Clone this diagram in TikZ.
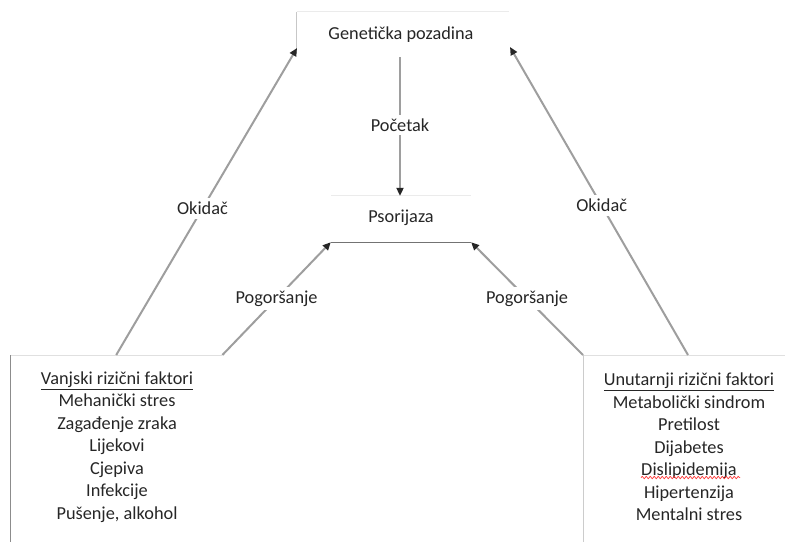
\documentclass[tikz,border=0pt]{standalone}
\usepackage{fontspec}
\setmainfont{Carlito}
\usetikzlibrary{arrows.meta,decorations.pathmorphing}
\begin{document}
\begin{tikzpicture}[x=1pt,y=-1pt,
  txt/.style={font=\fontsize{18.3}{22.5}\selectfont, text=black!85, inner sep=2pt},
  faint/.style={draw=black!8, line width=0.8pt},
  conn/.style={draw=black!38, line width=2pt,
     -{Triangle[length=8pt,width=7pt,color=black!85]}},
  lbl/.style={txt, fill=white, inner sep=4pt}]
\useasboundingbox (0,0) rectangle (785,542);
% boxes
\node[minimum width=212pt, minimum height=42pt, inner sep=0] (gen) at (403,33) {};
\draw[faint] (gen.north west) -- (gen.north east);
\draw[black!22, line width=0.8pt] (gen.north west) -- (gen.south west);
\node[txt] (gent) at (401,35) {Genetička pozadina};
\node[minimum width=140pt, minimum height=46pt, inner sep=0] (pso) at (401,219) {};
\draw[faint] (pso.north west) -- (pso.north east);
\draw[black!55, line width=0.9pt] (pso.south west) -- (pso.south east);
\node[txt] (psot) at (401,218) {Psorijaza};
\node[anchor=north west, minimum width=212pt, minimum height=200pt, inner sep=0] (vanj) at (10,355) {};
\draw[black!12, line width=0.8pt] (vanj.north west) -- (vanj.north east);
\draw[black!45, line width=1pt] (vanj.north west) -- (vanj.north west |- 0,542);
\node[anchor=north west, minimum width=220pt, minimum height=200pt, inner sep=0] (unut) at (583,355) {};
\draw[black!12, line width=0.8pt] (unut.north west) -- (unut.north east);
\draw[black!20, line width=1pt] (unut.north west) -- (unut.north west |- 0,542);
% texts
\node[txt, align=center] (vanjt) at (117,447) {\underline{Vanjski rizični faktori}\\Mehanički stres\\Zagađenje zraka\\Lijekovi\\Cjepiva\\Infekcije\\Pušenje, alkohol};
\node[txt, align=center] (unutt) at (689,447) {\underline{Unutarnji rizični faktori}\\Metabolički sindrom\\Pretilost\\Dijabetes\\Dislipidemija\\Hipertenzija\\Mentalni stres};
\draw[red!80, line width=0.7pt, decorate, decoration={snake, amplitude=1.2pt, segment length=4pt}] (641,477.5) -- (740,477.5);
% connectors
\coordinate (gl) at (297,48);
\coordinate (gr) at (510,47);
\coordinate (gb) at (400,57);
\draw[conn] (vanj.north) -- node[lbl, pos=0.477] (ok1) {Okidač} (gl);
\draw[conn] (unut.north -| 688,0) -- node[lbl, pos=0.485] (ok2) {Okidač} (gr);
\draw[conn] (gb) -- node[lbl, pos=0.49] (poc) {Početak} (pso.north -| 400,0);
\draw[conn] (vanj.north east) -- node[lbl, pos=0.5] (pog1) {Pogoršanje} (pso.south west);
\draw[conn] (unut.north west) -- node[lbl, pos=0.5] (pog2) {Pogoršanje} (pso.south east);
\end{tikzpicture}
\end{document}
